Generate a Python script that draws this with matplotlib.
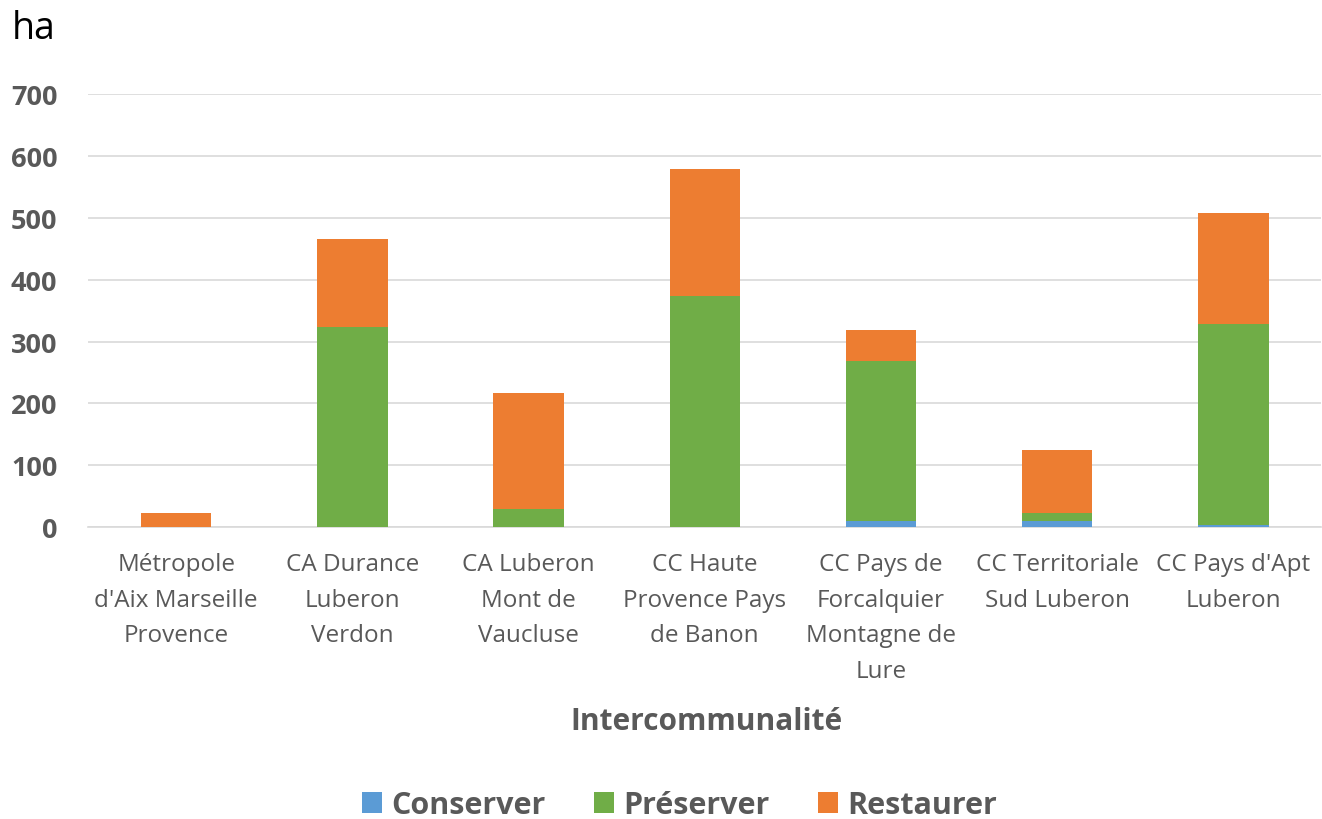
import numpy as np
import matplotlib
matplotlib.use('Agg')
from matplotlib import pyplot as plt

plt.rcParams['font.family'] = ['Open Sans', 'DejaVu Sans']

categories = ["Métropole\nd'Aix Marseille\nProvence", "CA Durance\nLuberon\nVerdon",
              "CA Luberon\nMont de\nVaucluse", "CC Haute\nProvence Pays\nde Banon",
              "CC Pays de\nForcalquier\nMontagne de\nLure", "CC Territoriale\nSud Luberon",
              "CC Pays d'Apt\nLuberon"]
conserver = [0, 0, 0, 0, 10, 10, 4]
preserver = [0, 323, 29, 373, 258, 12, 324]
restaurer = [22, 143, 188, 206, 50, 103, 180]

grey = '#595959'
fig = plt.figure(figsize=(13.22, 8.2), dpi=100)
ax = fig.add_axes([0.0666, 0.356, 0.933, 0.528])

x = np.arange(len(categories))
w = 0.4
c = np.array(conserver)
p = np.array(preserver)
r = np.array(restaurer)
ax.bar(x, c, w, color='#5B9BD5', label='Conserver', zorder=3)
ax.bar(x, p, w, bottom=c, color='#70AD47', label='Préserver', zorder=3)
ax.bar(x, r, w, bottom=c + p, color='#ED7D31', label='Restaurer', zorder=3)

ax.set_xlim(-0.5, len(categories) - 0.5)
ax.set_ylim(0, 700)
ax.set_yticks(range(0, 701, 100))
ax.yaxis.grid(True, color='#D9D9D9', linewidth=1.2, zorder=0)
for s in ['top', 'right', 'left']:
    ax.spines[s].set_visible(False)
ax.spines['bottom'].set_color('#D9D9D9')
ax.spines['bottom'].set_linewidth(1.2)
ax.tick_params(axis='both', length=0)
ax.tick_params(axis='y', pad=22)
ax.set_xticks(x)
ax.set_xticklabels(categories, fontsize=17.5, color=grey, linespacing=1.64)
ax.tick_params(axis='x', pad=18)
for t in ax.get_yticklabels():
    t.set_fontsize(19.5)
    t.set_fontweight('bold')
    t.set_color(grey)

fig.text(0.009, 0.965, 'ha', fontsize=27, color='black', va='center', ha='left')
fig.text(0.534, 0.12, 'Intercommunalité', fontsize=21.5, fontweight='bold', color=grey,
         ha='center', va='center')

leg = fig.legend(loc='center', bbox_to_anchor=(0.514, 0.017), ncol=3, frameon=False,
                 prop={'size': 22, 'weight': 'bold'}, handlelength=0.65, handleheight=0.65,
                 handletextpad=0.3, columnspacing=1.6)
for t in leg.get_texts():
    t.set_color(grey)

fig.savefig('out.png', dpi=100)
